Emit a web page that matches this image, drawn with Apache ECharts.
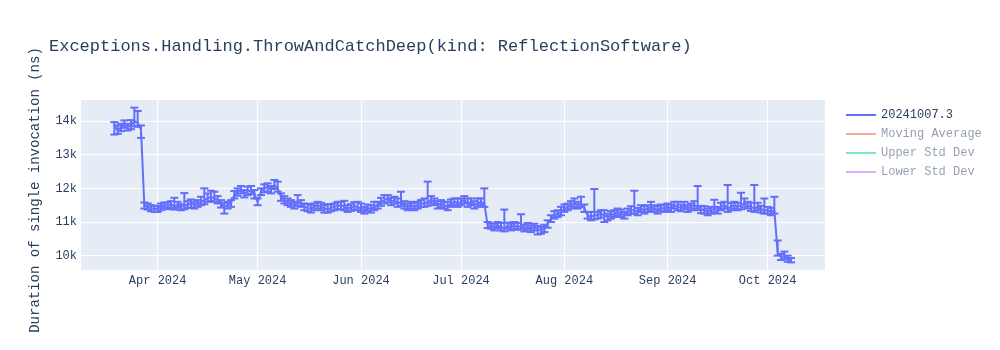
<!DOCTYPE html>
<html>
<head>
<meta charset="utf-8">
<script src="https://cdn.jsdelivr.net/npm/echarts@6/dist/echarts.min.js"></script>
<style>html,body{margin:0;padding:0;background:#fff}#c{width:1000px;height:350px}</style>
</head>
<body>
<div id="c"></div>
<script>
// Daily measurements starting 2024-03-19 (one value per day)
const startDay = [2024, 2, 19];
const values = [
  13850, 13720, 13820, 13900, 13820, 13880, 14000, 13950, 13750,
  11500, 11450, 11420, 11380, 11400,
  11450, 11500, 11480, 11520, 11470, 11500, 11450, 11480, 11520, 11550, 11500,
  11550, 11600, 11650, 11700, 11750, 11700, 11650,
  11550, 11450, 11500, 11550,
  11800, 11900, 11950, 11850, 11900, 11950, 11850,
  11600,
  11900, 12000, 12050, 11950, 12100, 12000,
  11750, 11650, 11600, 11550, 11500, 11600,
  11550, 11450, 11420, 11400, 11450, 11500, 11450, 11400, 11380, 11420, 11450, 11480, 11500, 11450, 11400, 11430, 11470, 11450,
  11400, 11350, 11420, 11380, 11450, 11500,
  11600, 11650, 11700, 11600, 11650, 11550, 11600, 11500,
  11450, 11500, 11450, 11500, 11550,
  11550, 11600, 11650, 11600, 11500, 11550,
  11500, 11450, 11550, 11600, 11550, 11600, 11650, 11550, 11600, 11500, 11550, 11600, 11550,
  10900,
  10880, 10850, 10900, 10850, 10820, 10880, 10850, 10900, 10850, 10880, 10820, 10850, 10800, 10850,
  10780, 10750, 10800, 10950,
  11100, 11200, 11250, 11300, 11400,
  11450, 11500, 11550, 11500, 11550,
  11400, 11200, 11150, 11200,
  11200, 11250, 11200, 11150, 11200, 11250, 11300, 11250, 11200, 11300, 11350,
  11350, 11300, 11400, 11350, 11400, 11450, 11400, 11350, 11420, 11400,
  11450, 11400, 11500, 11450, 11420, 11480, 11400, 11450, 11500, 11450,
  11380, 11350, 11300, 11350, 11400,
  11350, 11450, 11500, 11400, 11450, 11500,
  11450, 11500, 11550, 11500, 11450, 11400, 11450, 11380, 11350,
  11350, 11300, 11350,
  10100, 9950, 10000, 9900, 9850
];
const errUp = [
  120, 150, 100, 120, 100, 150, 400, 350, 120,
  80, 100, 80, 100, 80,
  100, 80, 100, 100, 250, 100, 80, 380, 100, 120, 100,
  100, 150, 350, 150, 180, 200, 120,
  100, 120, 100, 100,
  120, 100, 120, 100, 150, 120, 100,
  100,
  100, 120, 100, 120, 150, 200,
  100, 120, 100, 100, 100, 200,
  100, 100, 120, 100, 100, 100, 120, 100, 150, 100, 100, 120, 100, 180, 100, 100, 120, 150,
  150, 100, 100, 120, 150, 100,
  120, 150, 100, 120, 100, 150, 300, 120,
  100, 100, 120, 100, 100,
  150, 600, 120, 100, 120, 100,
  100, 150, 120, 100, 150, 100, 120, 150, 100, 120, 150, 100, 450,
  100,
  80, 100, 100, 120, 550, 100, 100, 100, 120, 350, 100, 120, 100, 100,
  100, 100, 120, 100,
  100, 120, 100, 150, 120,
  100, 120, 150, 100, 200,
  120, 100, 150, 780,
  100, 100, 150, 100, 120, 100, 100, 120, 100, 100, 120,
  580, 120, 100, 120, 100, 150, 100, 120, 100, 100,
  100, 120, 100, 150, 100, 120, 100, 100, 120, 620,
  100, 120, 100, 100, 260,
  100, 120, 100, 700, 120, 100,
  120, 370, 150, 100, 120, 700, 120, 100, 350,
  100, 120, 400,
  350, 100, 120, 100, 80
];
const errDown = [
  250, 100, 120, 100, 100, 120, 150, 120, 250,
  100, 80, 100, 80, 100,
  100, 80, 100, 100, 100, 80, 100, 100, 100, 120, 100,
  100, 100, 120, 100, 120, 100, 100,
  120, 200, 100, 100,
  100, 120, 100, 120, 100, 120, 150,
  100,
  100, 120, 150, 100, 120, 100,
  120, 100, 100, 100, 100, 120,
  100, 100, 100, 120, 100, 100, 100, 120, 100, 100, 100, 100, 120, 100, 100, 100, 100, 100,
  100, 100, 100, 100, 100, 100,
  120, 100, 120, 100, 100, 100, 120, 100,
  100, 100, 100, 100, 100,
  100, 120, 100, 100, 100, 100,
  100, 100, 100, 100, 100, 100, 100, 100, 100, 100, 100, 100, 100,
  80,
  80, 100, 80, 100, 100, 80, 100, 100, 80, 100, 100, 80, 100, 100,
  150, 100, 100, 120,
  100, 100, 100, 100, 100,
  100, 100, 100, 100, 100,
  100, 100, 100, 120,
  100, 120, 200, 100, 100, 100, 100, 100, 100, 100, 100,
  100, 100, 100, 100, 100, 100, 100, 100, 100, 100,
  100, 100, 100, 100, 100, 100, 100, 100, 100, 100,
  120, 100, 100, 100, 100,
  100, 100, 100, 100, 100, 100,
  100, 120, 100, 100, 120, 100, 100, 100, 100,
  100, 100, 100,
  100, 80, 100, 80, 50
];
const seriesName = '20241007.3';
const hiddenNames = ['Moving Average', 'Upper Std Dev', 'Lower Std Dev'];
const hiddenColors = ['rgba(239,85,59,0.5)', 'rgba(0,204,150,0.5)', 'rgba(171,99,250,0.5)'];
const monthNames = ['Jan','Feb','Mar','Apr','May','Jun','Jul','Aug','Sep','Oct','Nov','Dec'];
const titleText = 'Exceptions.Handling.ThrowAndCatchDeep(kind: ReflectionSoftware)';
const yTitle = 'Duration of single invocation (ns)';

const DAY = 86400000;
const times = values.map((_, i) => new Date(startDay[0], startDay[1], startDay[2] + i).getTime());
const lineData = values.map((v, i) => [times[i], v]);
const errData = values.map((v, i) => [times[i], v - errDown[i], v + errUp[i]]);

const apr1 = new Date(2024, 3, 1).getTime();
const xMin = apr1 - 23.3 * DAY;
const xMax = apr1 + 200.2 * DAY;

const FONT = '"Liberation Mono", "Courier New", monospace';
const TXT = '#2a3f5f';
const FADED = 'rgba(42,63,95,0.5)';

const chart = echarts.init(document.getElementById('c'), null, {renderer: 'canvas'});
chart.setOption({
  animation: false,
  backgroundColor: '#ffffff',
  title: {
    text: titleText,
    left: 44, top: 33,
    textStyle: {fontFamily: FONT, fontSize: 17, fontWeight: 'normal', color: TXT}
  },
  legend: {
    orient: 'vertical',
    left: 846, top: 109,
    padding: 0,
    icon: 'rect',
    itemWidth: 30, itemHeight: 2, itemGap: 7,
    textStyle: {fontFamily: FONT, fontSize: 12, color: TXT},
    data: [
      {name: seriesName},
      ...hiddenNames.map(n => ({name: n, textStyle: {color: FADED}}))
    ]
  },
  grid: {left: 80, right: 175, top: 100, bottom: 80, show: true, backgroundColor: '#E5ECF6', borderWidth: 0},
  xAxis: {
    type: 'time',
    min: xMin, max: xMax,
    splitNumber: 7,
    axisLine: {show: false},
    axisTick: {show: false},
    splitLine: {show: true, lineStyle: {color: '#ffffff', width: 1}},
    axisLabel: {
      fontFamily: FONT, fontSize: 12, color: TXT, margin: 5,
      formatter: function (v) { const d = new Date(v); return monthNames[d.getMonth()] + ' ' + d.getFullYear(); }
    }
  },
  yAxis: {
    type: 'value',
    min: 9573, max: 14627,
    name: yTitle,
    nameLocation: 'middle',
    nameGap: 38,
    nameTextStyle: {fontFamily: FONT, fontSize: 14, color: TXT, padding: [0, 10, 0, 0]},
    axisLine: {show: false},
    axisTick: {show: false},
    splitLine: {show: true, showMinLine: false, showMaxLine: false, lineStyle: {color: '#ffffff', width: 1}},
    axisLabel: {
      fontFamily: FONT, fontSize: 12, color: TXT, margin: 3,
      showMinLabel: false, showMaxLabel: false,
      formatter: function (v) { return (v / 1000) + 'k'; }
    }
  },
  series: [
    {
      name: seriesName,
      type: 'line',
      data: lineData,
      symbol: 'none',
      color: '#636EFA',
      lineStyle: {width: 2, color: '#636EFA'},
      z: 3
    },
    {
      type: 'custom',
      data: errData,
      encode: {x: 0, y: [1, 2]},
      z: 2,
      renderItem: function (params, api) {
        const t = api.value(0);
        const lo = api.coord([t, api.value(1)]);
        const hi = api.coord([t, api.value(2)]);
        const w = 4;
        const st = {stroke: '#636EFA', lineWidth: 2};
        return {
          type: 'group',
          children: [
            {type: 'line', shape: {x1: lo[0], y1: lo[1], x2: hi[0], y2: hi[1]}, style: st},
            {type: 'line', shape: {x1: lo[0] - w, y1: lo[1], x2: lo[0] + w, y2: lo[1]}, style: st},
            {type: 'line', shape: {x1: hi[0] - w, y1: hi[1], x2: hi[0] + w, y2: hi[1]}, style: st}
          ]
        };
      }
    },
    ...hiddenNames.map((n, i) => ({
      name: n, type: 'line', data: [], symbol: 'none',
      color: hiddenColors[i], lineStyle: {width: 2, color: hiddenColors[i]}
    }))
  ]
});
</script>
</body>
</html>
